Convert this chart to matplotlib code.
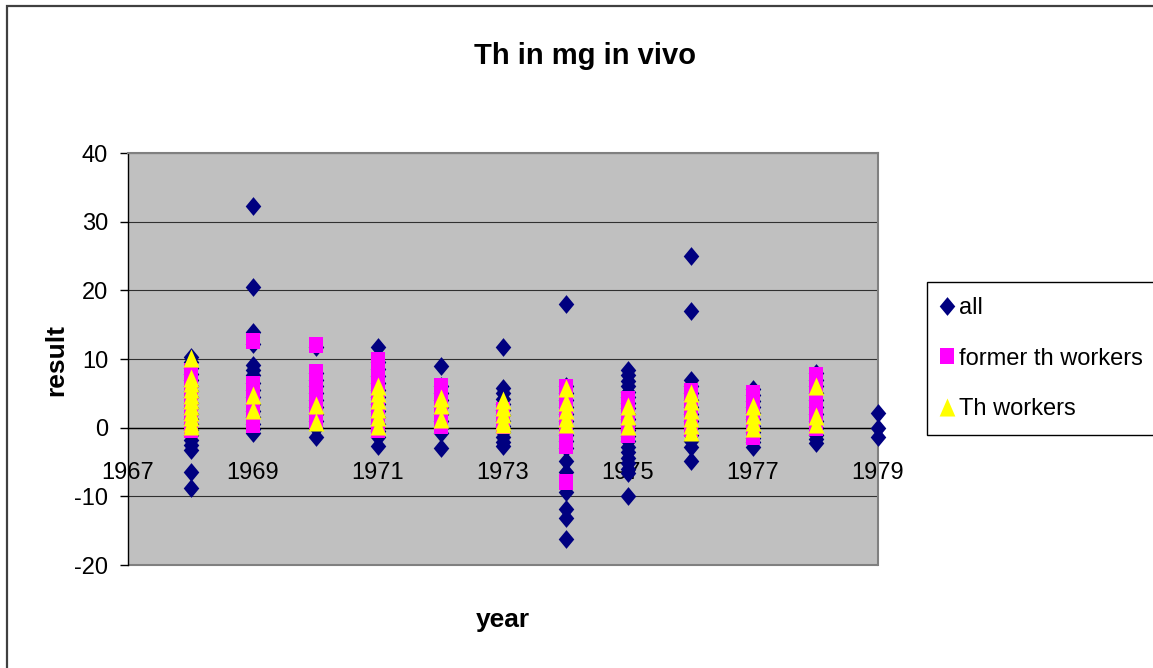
import numpy as np
import matplotlib
matplotlib.use("Agg")
import matplotlib.pyplot as plt
from matplotlib.patches import Rectangle

plt.rcParams['font.family'] = ['Liberation Sans', 'DejaVu Sans']
plt.rcParams['axes.unicode_minus'] = False

years = [1968, 1969, 1970, 1971, 1972, 1973, 1974, 1975, 1976, 1977, 1978, 1979]

# values read per year, one list per year
all_vals = [
    [10.3, 9.5, 8.7, 7.8, 7.0, 6.1, 5.3, 4.4, 3.6, 2.8, 2.0, 1.2, 0.5, -0.3, -1.0, -1.8, -2.5, -3.3, -6.4, -8.8],
    [32.3, 20.5, 14.0, 12.2, 9.1, 8.4, 7.6, 6.5, 5.5, 4.5, 3.5, 2.5, 1.5, 0.5, -0.2, -0.8],
    [11.8, 8.0, 7.0, 6.0, 5.0, 4.0, 3.0, 2.0, 1.0, 0.0, -1.4],
    [11.8, 9.5, 8.5, 7.5, 6.5, 5.5, 4.5, 3.5, 2.5, 1.5, 0.5, -0.5, -1.3, -2.7],
    [9.0, 6.0, 5.0, 4.0, 3.0, 2.0, 1.0, 0.0, -0.8, -3.0],
    [11.8, 5.8, 5.0, 4.2, 3.4, 2.6, 1.8, 1.0, 0.2, -0.6, -1.4, -2.1, -2.7],
    [18.0, 6.1, 5.0, 4.0, 3.0, 2.0, 1.0, 0.0, -1.0, -2.0, -3.0, -4.9, -6.5, -9.3, -11.8, -13.2, -16.2],
    [8.4, 7.6, 6.8, 6.0, 5.2, 4.4, 3.6, 2.8, 2.0, 1.2, 0.4, -0.4, -1.2, -2.0, -2.8, -3.6, -4.4, -5.2, -6.0, -6.6, -9.9],
    [25.0, 17.0, 6.9, 6.0, 5.0, 4.0, 3.0, 2.0, 1.0, 0.0, -1.0, -2.0, -2.8, -4.8],
    [5.7, 4.8, 3.9, 3.0, 2.1, 1.2, 0.3, -0.6, -1.5, -2.1, -2.8],
    [8.0, 7.0, 6.0, 5.0, 4.0, 3.0, 2.0, 1.0, 0.0, -1.0, -1.6, -2.3],
    [2.1, 0.0, -1.3],
]

former_vals = [
    [8.3, 7.5, 6.6, 5.8, 5.0, 4.1, 3.3, 2.5, 1.6, 0.8, 0.0, -0.4],
    [12.6, 6.4, 5.6, 4.8, 4.0, 3.2, 2.4, 1.6, 0.8, 0.4],
    [12.0, 8.1, 7.2, 6.3, 5.5, 4.0, 3.2, 2.4, 1.6, 0.9],
    [9.9, 9.0, 8.0, 7.0, 6.0, 5.0, 4.0, 3.0, 2.0, 1.0, 0.0, -0.3],
    [6.0, 5.0, 4.0, 3.0, 2.0, 1.0, 0.2],
    [2.6, 1.8, 1.0, 0.3],
    [5.9, 5.0, 4.0, 3.0, 2.0, 1.0, 0.0, -1.0, -2.0, -2.7, -7.9],
    [4.2, 3.4, 2.6, 1.8, 1.0, 0.2, -0.5, -1.0],
    [5.3, 4.5, 3.7, 2.9, 2.1, 1.3, 0.5, -0.2],
    [5.0, 4.2, 3.4, 2.6, 1.8, 1.0, 0.2, -0.6, -1.3],
    [7.6, 6.8, 6.0, 5.2, 4.4, 3.6, 2.8, 2.0, 1.2, 0.4, -0.1],
    [],
]

th_vals = [
    [10.2, 7.3, 6.5, 5.6, 4.8, 4.0, 3.1, 2.3, 1.5, 0.7, 0.2],
    [4.8, 2.6],
    [3.3, 0.8],
    [6.0, 5.0, 4.0, 2.7, 1.5, 0.3],
    [4.3, 3.3, 1.2],
    [4.0, 3.0, 2.0, 1.0, 0.5],
    [5.8, 3.8, 2.6, 1.4, 0.5],
    [3.2, 1.7, 0.3],
    [5.1, 3.9, 2.6, 1.4, 0.4, -0.7],
    [3.1, 1.8, 0.8, 0.0],
    [6.0, 1.7, 0.6],
    [],
]

series_names = ['all', 'former th workers', 'Th workers']
series_colors = ['#000080', '#FF00FF', '#FFFF00']

diamond = [(0, 1), (0.83, 0), (0, -1), (-0.83, 0)]
square = [(-0.79, -1), (0.79, -1), (0.79, 1), (-0.79, 1)]
triangle = [(0, 1), (0.87, -1), (-0.87, -1)]

W, H = 1153, 668
fig = plt.figure(figsize=(W / 100, H / 100), dpi=100)
ax = fig.add_axes([128 / W, 1 - 565 / H, 750 / W, 412 / H])
ax.set_facecolor('#C0C0C0')

handles = []
for vals, name, col, mk, ms, z in zip([all_vals, former_vals, th_vals], series_names,
                                      series_colors, [diamond, square, triangle],
                                      [13.5, 12.0, 13.0], [3, 4, 5]):
    xs = np.repeat(years, [len(v) for v in vals])
    ys = np.concatenate([np.array(v, dtype=float) for v in vals])
    h, = ax.plot(xs, ys, linestyle='none', marker=mk, markersize=ms, color=col,
                 markeredgewidth=0, clip_on=False, zorder=z, label=name)
    handles.append(h)

ax.set_xlim(1967, 1979)
ax.set_ylim(-20, 40)
ax.set_xticks(range(1967, 1980, 2))
ax.set_yticks(range(-20, 41, 10))

ax.set_axisbelow(True)
ax.yaxis.grid(True, color='#303030', linewidth=0.8)
ax.xaxis.grid(False)

ax.spines['bottom'].set_position(('data', 0))
ax.spines['bottom'].set_color('black')
ax.spines['bottom'].set_linewidth(1.0)
ax.spines['left'].set_color('black')
ax.spines['left'].set_linewidth(1.0)
for s in ['top', 'right']:
    ax.spines[s].set_color('#808080')
    ax.spines[s].set_linewidth(1.5)
ax.add_patch(Rectangle((0, 0), 1, 0.0001, transform=ax.transAxes, facecolor='none',
                       edgecolor='#808080', linewidth=1.5, clip_on=False))

ax.tick_params(axis='y', direction='out', length=5.8, width=1, pad=8.6, labelsize=17)
ax.tick_params(axis='x', length=0, pad=25, labelsize=17)

fig.text(584.5 / W, 1 - 64.5 / H, 'Th in mg in vivo', ha='center', va='baseline',
         fontsize=21, fontweight='bold')
fig.text(503 / W, 1 - 627 / H, 'year', ha='center', va='baseline',
         fontsize=19, fontweight='bold')
fig.text(63 / W, 1 - 360 / H, 'result', ha='center', va='baseline', rotation=90,
         rotation_mode='anchor', fontsize=19, fontweight='bold')

leg = fig.legend(handles=handles, loc='upper left', bbox_to_anchor=(927 / W, 1 - 282 / H),
                 borderaxespad=0, fancybox=False, framealpha=1, edgecolor='black',
                 fontsize=17, borderpad=0.65, labelspacing=1.2, handlelength=0.4,
                 handletextpad=0.3)
leg.get_frame().set_linewidth(1.0)

fig.add_artist(Rectangle((6.5 / W, -0.1), 1.2, 1 - 5.5 / H + 0.1, transform=fig.transFigure,
                         facecolor='none', edgecolor='#404040', linewidth=1.6))

fig.savefig('out.png', dpi=100)
